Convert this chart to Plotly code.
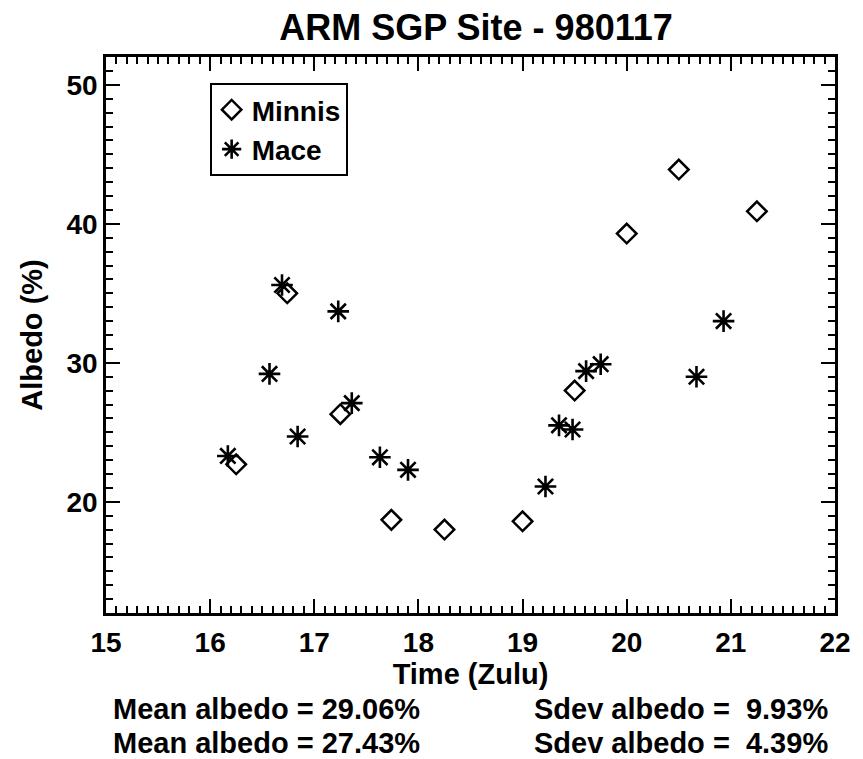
import plotly.graph_objects as go

# Data
minnis_time = [16.25, 16.74, 17.25, 17.74, 18.25, 19.00, 19.50, 20.00, 20.50, 21.25]
minnis_albedo = [22.7, 35.0, 26.3, 18.7, 18.0, 18.6, 28.0, 39.3, 43.9, 40.9]

mace_time = [16.17, 16.57, 16.69, 16.84, 17.23, 17.36, 17.63, 17.90,
             19.22, 19.35, 19.48, 19.61, 19.75, 20.67, 20.93]
mace_albedo = [23.3, 29.2, 35.6, 24.7, 33.7, 27.1, 23.2, 22.3,
               21.1, 25.5, 25.2, 29.4, 29.9, 29.0, 33.0]

stats_left = ["Mean albedo = 29.06%", "Mean albedo = 27.43%"]
stats_right = ["Sdev albedo =  9.93%", "Sdev albedo =  4.39%"]

FONT = "Liberation Sans, Arial, Helvetica, sans-serif"
OFF = 8  # page body margin


def tfont(size):
    return dict(family=FONT, size=size, color="black", weight="bold")


fig = go.Figure()
fig.add_trace(go.Scatter(
    x=minnis_time, y=minnis_albedo, mode="markers", name="Minnis",
    marker=dict(symbol="diamond-open", size=15, color="black",
                line=dict(width=2.5, color="black")),
))
fig.add_trace(go.Scatter(
    x=mace_time, y=mace_albedo, mode="markers", name="Mace",
    marker=dict(symbol="asterisk-open", size=18, color="black",
                line=dict(width=2.6, color="black")),
))

axis_common = dict(
    showgrid=False, zeroline=False, showline=True, linecolor="black",
    linewidth=2.5, mirror="allticks", ticks="inside", ticklen=14,
    tickwidth=2, tickcolor="black",
    tickfont=tfont(28),
)

fig.update_xaxes(
    range=[15, 22], tick0=15, dtick=1,
    minor=dict(ticks="inside", ticklen=7, tickwidth=1.5, dtick=0.1,
               tickcolor="black"),
    ticklabelstandoff=3,
    title=dict(text="Time (Zulu)", font=tfont(29), standoff=2),
    **axis_common,
)
fig.update_yaxes(
    range=[12, 52], tick0=10, dtick=10,
    minor=dict(ticks="inside", ticklen=7, tickwidth=1.5, dtick=1,
               tickcolor="black"),
    ticklabelstandoff=0,
    title=dict(text="Albedo (%)", font=tfont(29), standoff=16),
    **axis_common,
)

annotations = []
for i, (lt, rt) in enumerate(zip(stats_left, stats_right)):
    yy = 709 + 34 * i
    annotations.append(dict(text=lt, xref="paper", yref="paper",
                            x=(111 - 105.5) / 735, y=(613 - yy) / 556,
                            xanchor="left", yanchor="middle", showarrow=False,
                            font=tfont(29)))
    annotations.append(dict(text=rt, xref="paper", yref="paper",
                            x=(835 - 105.5) / 735, y=(613 - yy) / 556,
                            xanchor="right", yanchor="middle", showarrow=False,
                            font=tfont(29)))

fig.update_layout(
    width=863 - OFF, height=759 - OFF,
    margin=dict(l=105.5 - OFF, r=22.5, t=57 - OFF, b=146),
    paper_bgcolor="white", plot_bgcolor="white",
    title=dict(text="ARM SGP Site - 980117", x=(476 - OFF) / (863 - OFF),
               xanchor="center", y=1 - (27 - OFF) / (759 - OFF), yanchor="middle",
               font=tfont(36)),
    legend=dict(x=(210 - 105.5) / 735, y=(613 - 83) / 556,
                xanchor="left", yanchor="top",
                bordercolor="black", borderwidth=2, bgcolor="white",
                font=tfont(28), tracegroupgap=0),
    annotations=annotations,
    showlegend=True,
)

fig.write_html("out.html")
